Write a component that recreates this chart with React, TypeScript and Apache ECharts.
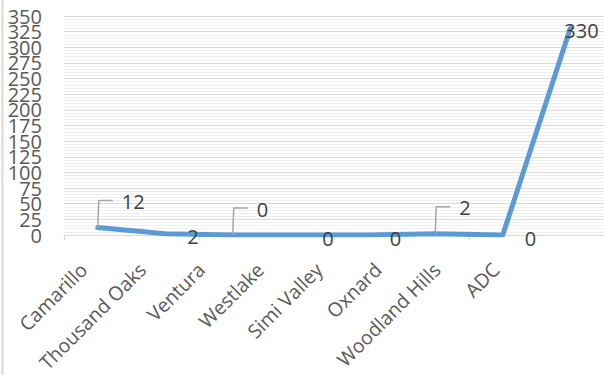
import React, { useEffect, useRef } from "react";
import * as echarts from "echarts";

const categories = ["Camarillo", "Thousand Oaks", "Ventura", "Westlake", "Simi Valley", "Oxnard", "Woodland Hills", "ADC"];
const values = [12, 2, 0, 0, 0, 2, 0, 330];
const calloutIdx = [0, 2, 5];
const yMin = 0;
const yMax = 350;
const yStep = 25;

export default function App() {
  const ref = useRef<HTMLDivElement>(null);
  useEffect(() => {
    const chart = echarts.init(ref.current!, null, { renderer: "svg" });
    const font = "'Open Sans', 'Liberation Sans', sans-serif";
    const yLabel = {
      fontSize: 20,
      color: "#595959",
      fontFamily: font,
      margin: 22,
      hideOverlap: false,
    };
    chart.setOption({
      animation: false,
      backgroundColor: "#ffffff",
      grid: [
        { left: 64, right: 0, top: 16, bottom: 140, containLabel: false },
        { left: 54, right: 79, top: 16, bottom: 140, containLabel: false },
      ],
      graphic: [
        { type: "line", shape: { x1: 2.5, y1: 0, x2: 2.5, y2: 375 }, style: { stroke: "#d9d9d9", lineWidth: 2 } },
      ],
      xAxis: [
        {
          type: "category",
          gridIndex: 0,
          data: categories,
          boundaryGap: true,
          axisLine: { show: true, lineStyle: { color: "#d9d9d9", width: 1 } },
          axisTick: { show: true, length: 5, lineStyle: { color: "#d9d9d9" } },
          axisLabel: { show: false },
          splitLine: { show: false },
        },
        {
          type: "category",
          gridIndex: 1,
          data: categories,
          boundaryGap: true,
          axisLine: { show: false },
          axisTick: { show: false },
          axisLabel: { rotate: 45, fontSize: 19.5, color: "#595959", fontFamily: font, margin: 32, interval: 0 },
          splitLine: { show: false },
        },
      ],
      yAxis: [
        {
          type: "value",
          gridIndex: 0,
          position: "left",
          min: yMin,
          max: yMax,
          interval: yStep,
          axisLine: { show: false },
          axisTick: { show: false },
          axisLabel: { ...yLabel, showMinLabel: false, showMaxLabel: false },
          splitLine: { show: true, lineStyle: { color: "#d9d9d9", width: 1 } },
          minorTick: { show: false, splitNumber: 5 },
          minorSplitLine: { show: true, lineStyle: { color: "#efefef", width: 1 } },
        },
        {
          type: "value",
          gridIndex: 0,
          position: "left",
          offset: 0,
          min: yMin,
          max: yMax,
          interval: yMax - yMin,
          axisLine: { show: false },
          axisTick: { show: false },
          axisLabel: { ...yLabel, showMinLabel: true, showMaxLabel: true },
          splitLine: { show: false },
        },
        {
          type: "value",
          gridIndex: 1,
          min: yMin,
          max: yMax,
          show: false,
        },
      ],
      series: [
        {
          type: "line",
          xAxisIndex: 0,
          yAxisIndex: 0,
          data: values,
          showSymbol: true,
          symbol: "circle",
          symbolSize: 0.1,
          z: 2,
          lineStyle: { color: "#5b9bd5", width: 5, cap: "round", join: "round" },
          itemStyle: { color: "#5b9bd5" },
          label: {
            show: true,
            position: "right",
            distance: 6,
            fontSize: 20,
            color: "#404040",
            fontFamily: font,
          },
          labelLayout: (p: any) => {
            if (calloutIdx.includes(p.dataIndex)) return { dx: 18, dy: -26 };
            if (p.dataIndex === 7) return { dx: -12, dy: 2 };
            return { dx: 16, dy: 3 };
          },
        },
        {
          type: "custom",
          xAxisIndex: 0,
          yAxisIndex: 0,
          z: 3,
          silent: true,
          data: calloutIdx.map((i) => [i, values[i]]),
          renderItem: (params: any, api: any) => {
            const pt = api.coord([api.value(0), api.value(1)]);
            return {
              type: "polyline",
              shape: {
                points: [
                  [pt[0], pt[1]],
                  [pt[0] + 1, pt[1] - 27],
                  [pt[0] + 15, pt[1] - 27],
                ],
              },
              style: { stroke: "#a6a6a6", lineWidth: 1.5, fill: "none" },
            };
          },
        },
      ],
    });
    return () => chart.dispose();
  }, []);
  return <div ref={ref} style={{ position: "absolute", left: 0, top: 0, width: 604, height: 375 }} />;
}
